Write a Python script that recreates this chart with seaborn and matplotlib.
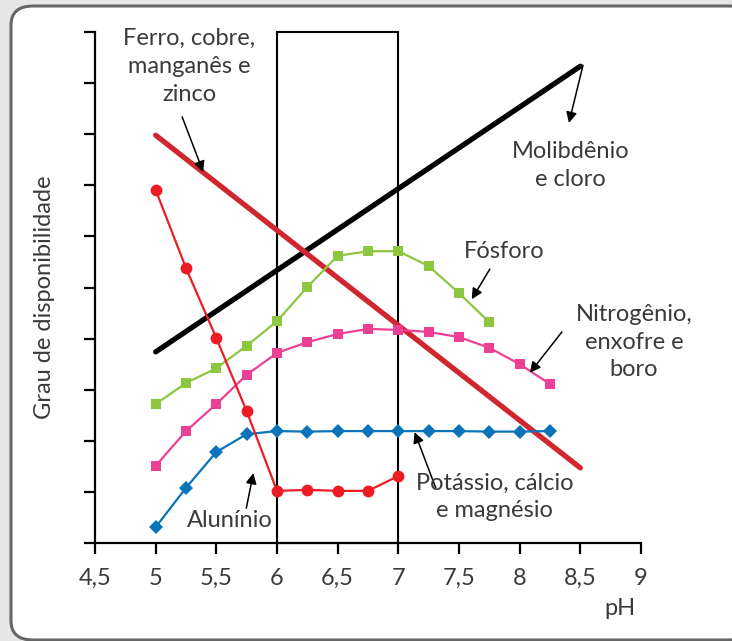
import numpy as np
import pandas as pd
import matplotlib
matplotlib.use('agg')
import matplotlib.pyplot as plt
from matplotlib.patches import FancyBboxPatch, Rectangle
import seaborn as sns

## data
ph_mo = [5.0, 8.5]
mo = [3.74, 9.33]                     # Molibdenio e cloro
ph_fe = [5.0, 8.5]
fe = [7.98, 1.47]                     # Ferro, cobre, manganes e zinco
ph_al = [5.0, 5.25, 5.5, 5.75, 6.0, 6.25, 6.5, 6.75, 7.0]
al = [6.91, 5.38, 4.01, 2.58, 1.02, 1.04, 1.02, 1.02, 1.31]
ph_p = [5.0, 5.25, 5.5, 5.75, 6.0, 6.25, 6.5, 6.75, 7.0, 7.25, 7.5, 7.75]
p = [2.72, 3.13, 3.42, 3.86, 4.34, 5.01, 5.62, 5.71, 5.71, 5.42, 4.89, 4.32]
ph_n = [5.0, 5.25, 5.5, 5.75, 6.0, 6.25, 6.5, 6.75, 7.0, 7.25, 7.5, 7.75, 8.0, 8.25]
n = [1.51, 2.19, 2.72, 3.29, 3.72, 3.93, 4.09, 4.19, 4.17, 4.13, 4.03, 3.82, 3.50, 3.11]
ph_k = [5.0, 5.25, 5.5, 5.75, 6.0, 6.25, 6.5, 6.75, 7.0, 7.25, 7.5, 7.75, 8.0, 8.25]
k = [0.31, 1.08, 1.78, 2.13, 2.19, 2.18, 2.19, 2.19, 2.19, 2.19, 2.19, 2.18, 2.18, 2.19]
xticks = [4.5, 5, 5.5, 6, 6.5, 7, 7.5, 8, 8.5, 9]
xticklabels = ["4,5", "5", "5,5", "6", "6,5", "7", "7,5", "8", "8,5", "9"]

sns.set_style("white")
plt.rcParams['font.family'] = ['Lato', 'DejaVu Sans']
txt = '#3a3a3a'
fs = 17

fig = plt.figure(figsize=(7.32, 6.41), dpi=100)
fig.patch.set_facecolor('#e6e6e6')
frame = FancyBboxPatch((11/732, 1-640/641), 740/732, 634/641,
                       boxstyle="round,pad=0,rounding_size=0.03",
                       transform=fig.transFigure, facecolor='white',
                       edgecolor='#666666', lw=2.2, zorder=-5)
fig.add_artist(frame)

ax = fig.add_axes([95/732, 98/641, 546/732, 511/641])
ax.set_facecolor('none')
ax.set_zorder(5)

sns.lineplot(x=ph_mo, y=mo, ax=ax, color='black', lw=3.8)
sns.lineplot(x=ph_fe, y=fe, ax=ax, color='#d0262d', lw=3.8)
sns.lineplot(x=ph_p, y=p, ax=ax, color='#8dc63f', lw=1.6, marker='s', markersize=6.5, markeredgewidth=0)
sns.lineplot(x=ph_n, y=n, ax=ax, color='#ec4095', lw=1.6, marker='s', markersize=6.5, markeredgewidth=0)
sns.lineplot(x=ph_k, y=k, ax=ax, color='#0a74bb', lw=1.6, marker='D', markersize=7, markeredgewidth=0)
sns.lineplot(x=ph_al, y=al, ax=ax, color='#ed1c24', lw=1.6, marker='o', markersize=8.5, markeredgewidth=0)

ax.add_patch(Rectangle((6, 0), 1, 10, fill=False, lw=1.5, ec='black', clip_on=False, zorder=1))

ax.set_xlim(4.5, 9)
ax.set_ylim(0, 10)
ax.set_xticks(xticks)
ax.set_xticklabels(xticklabels)
ax.set_yticks(range(0, 11))
ax.set_yticklabels([])
sns.despine(ax=ax)
for s in ['left', 'bottom']:
    ax.spines[s].set_linewidth(1.6)
    ax.spines[s].set_color('black')
ax.tick_params(axis='both', direction='out', length=8, width=1.6, color='black',
               left=True, bottom=True, labelsize=fs, labelcolor=txt, pad=10)

ax.set_ylabel("Grau de disponibilidade", fontsize=fs, color=txt)
ax.yaxis.set_label_coords(-0.073, 0.481)
ax.set_xlabel("pH", fontsize=fs, color=txt)
ax.xaxis.set_label_coords(0.9615, -0.108)

arr = dict(arrowstyle='-|>', color='black', lw=1.1, mutation_scale=16, shrinkA=0, shrinkB=0)
ax.text(5.276, 9.33, "Ferro, cobre,\nmanganês e\nzinco", ha='center', va='center', fontsize=fs,
        color=txt, linespacing=1.4)
ax.annotate("", xy=(5.392, 7.26), xytext=(5.218, 8.34), arrowprops=arr)
ax.text(8.422, 7.38, "Molibdênio\ne cloro", ha='center', va='center', fontsize=fs,
        color=txt, linespacing=1.4)
ax.annotate("", xy=(8.406, 8.22), xytext=(8.522, 9.35), arrowprops=arr)
ax.text(7.869, 5.71, "Fósforo", ha='center', va='center', fontsize=fs, color=txt)
ax.annotate("", xy=(7.605, 4.77), xytext=(7.754, 5.36), arrowprops=arr)
ax.text(8.943, 3.93, "Nitrogênio,\nenxofre e\nboro", ha='center', va='center', fontsize=fs,
        color=txt, linespacing=1.4)
ax.annotate("", xy=(8.084, 3.33), xytext=(8.348, 4.13), arrowprops=arr)
ax.annotate("", xy=(7.134, 2.17), xytext=(7.308, 1.08), arrowprops=arr)
ax.text(7.795, 0.90, "Potássio, cálcio\ne magnésio", ha='center', va='center', fontsize=fs,
        color=txt, linespacing=1.4)
ax.text(5.607, 0.45, "Alunínio", ha='center', va='center', fontsize=fs, color=txt)
ax.annotate("", xy=(5.805, 1.37), xytext=(5.747, 0.68), arrowprops=arr)

fig.savefig("out.png", dpi=100)
